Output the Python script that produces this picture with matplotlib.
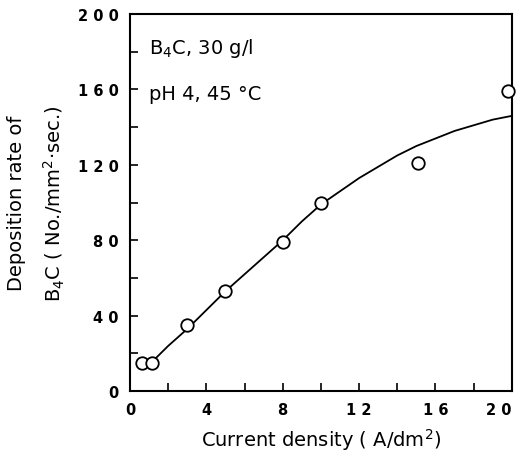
import matplotlib
matplotlib.use("Agg")
import matplotlib.pyplot as plt
from matplotlib.ticker import MultipleLocator, FixedLocator, FixedFormatter

# measured points
current = [0.65, 1.15, 3.0, 5.0, 8.0, 10.0, 15.1, 19.8]
rate = [15, 15, 35, 53, 79, 100, 121, 159]

# smooth trend line
fit_x = [1.3, 2, 3, 4, 5, 6, 7, 8, 9, 10, 11, 12, 13, 14, 15, 16, 17, 18, 19, 20]
fit_y = [17, 24, 33, 43, 53, 62, 71, 80, 90, 99, 106, 113, 119, 125, 130, 134, 138, 141, 144, 146]

xticks = [0, 4, 8, 12, 16, 20]
xticklabels = ["0", "4", "8", "1 2", "1 6", "2 0"]
yticks = [0, 40, 80, 120, 160, 200]
yticklabels = ["0", "4 0", "8 0", "1 2 0", "1 6 0", "2 0 0"]

plt.rcParams["font.family"] = ["DejaVu Sans"]

fig = plt.figure(figsize=(5.18, 4.56), dpi=100)
ax = fig.add_axes([0.251, 0.140, 0.737, 0.827])

ax.plot(fit_x, fit_y, color="black", lw=1.3, zorder=2, solid_joinstyle="round")
ax.plot(current, rate, "o", ms=9, mfc="white", mec="black", mew=1.3,
        clip_on=False, zorder=3)

ax.set_xlim(0, 20)
ax.set_ylim(0, 200)
ax.xaxis.set_major_locator(FixedLocator(xticks))
ax.xaxis.set_major_formatter(FixedFormatter(xticklabels))
ax.xaxis.set_minor_locator(MultipleLocator(2))
ax.yaxis.set_major_locator(FixedLocator(yticks))
ax.yaxis.set_major_formatter(FixedFormatter(yticklabels))
ax.yaxis.set_minor_locator(MultipleLocator(20))
ax.tick_params(which="both", direction="in", length=6, width=1.2,
               top=False, right=False, labelsize=10.5, pad=8)
for s in ax.spines.values():
    s.set_linewidth(1.5)

fig.canvas.draw()
for lab in ax.get_xticklabels() + ax.get_yticklabels():
    lab.set_fontweight("bold")
ax.get_xticklabels()[-1].set_horizontalalignment("right")

ax.set_xlabel("Current density ( A/dm$^{\\mathregular{2}}$)", fontsize=14, labelpad=6)
ax.set_ylabel("Deposition rate of\nB$_{\\mathregular{4}}$C ( No./mm$^{\\mathregular{2}}$·sec.)",
              fontsize=14, labelpad=8, linespacing=1.8)

ax.text(0.05, 0.91, "B$_{\\mathregular{4}}$C, 30 g/l", transform=ax.transAxes,
        fontsize=14, va="center")
ax.text(0.05, 0.79, "pH 4, 45 °C", transform=ax.transAxes,
        fontsize=14, va="center")

fig.savefig("out.png", dpi=100)
